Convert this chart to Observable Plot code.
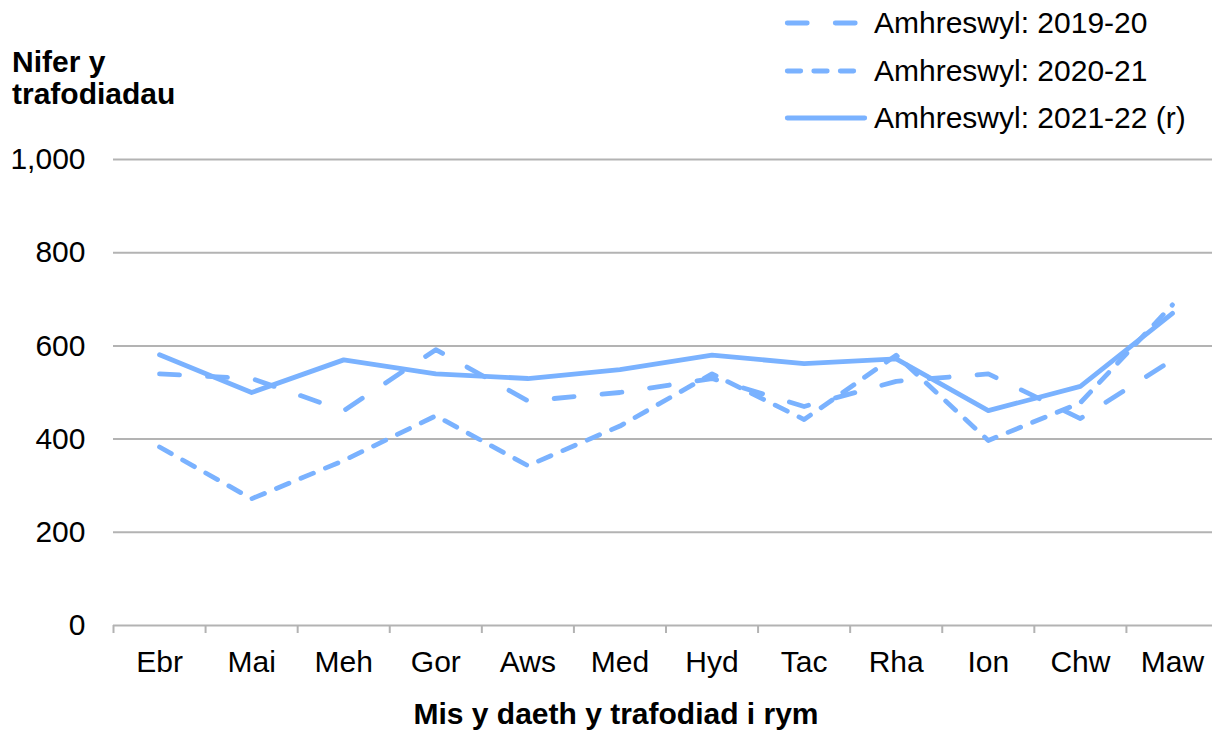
<!DOCTYPE html>
<html>
<head>
<meta charset="utf-8">
<script src="https://cdn.jsdelivr.net/npm/d3@7"></script>
<script src="https://cdn.jsdelivr.net/npm/@observablehq/plot@0.6"></script>
<style>
  html, body { margin: 0; padding: 0; background: #fff; }
  #wrap { position: relative; width: 1212px; height: 734px; overflow: hidden; font-family: "Liberation Sans", Arial, sans-serif; color: #000; }
  #ytitle { position: absolute; left: 12px; top: 46px; font-weight: bold; font-size: 30px; line-height: 32px; }
  #xtitle { position: absolute; left: 616px; top: 698px; transform: translateX(-50%); white-space: nowrap; font-weight: bold; font-size: 30px; line-height: 32px; }
  #legend { position: absolute; left: 780px; top: 0; }
</style>
</head>
<body>
<div id="wrap">
  <div id="chart"></div>
  <div id="ytitle">Nifer y<br>trafodiadau</div>
  <div id="xtitle">Mis y daeth y trafodiad i rym</div>
  <svg id="legend" width="432" height="140"></svg>
</div>
<script>
// ---- data ----
const months = ["Ebr", "Mai", "Meh", "Gor", "Aws", "Med", "Hyd", "Tac", "Rha", "Ion", "Chw", "Maw"];
const yTicks = [0, 200, 400, 600, 800, 1000];
const seriesNames = ["Amhreswyl: 2019-20", "Amhreswyl: 2020-21", "Amhreswyl: 2021-22 (r)"];
const values2019 = [540, 530, 461, 592, 482, 500, 530, 470, 524, 540, 444, 570];
const values2020 = [383, 272, 354, 450, 343, 428, 540, 442, 580, 397, 478, 688];
const values2021 = [581, 500, 570, 540, 530, 549, 580, 562, 572, 461, 513, 670];

// ---- styles ----
const lineColor = "#7AB2FF";
const gridColor = "#b3b3b3";
const dashes = ["20,28", "13.5,13", null];
const lineWidth = 4.8;

const allValues = [values2019, values2020, values2021];
const rows = allValues.flatMap((vals, s) => vals.map((v, i) => ({series: seriesNames[s], i, month: months[i], v})));
const idx = months.map((_, i) => i);
const boundaries = months.map((_, i) => i - 0.5).concat([months.length - 0.5]);

const chart = Plot.plot({
  width: 1212,
  height: 734,
  marginLeft: 113,
  marginRight: 0,
  marginTop: 159,
  marginBottom: 109,
  style: {fontFamily: "'Liberation Sans', Arial, sans-serif", fontSize: "30px", color: "#000", background: "#fff", overflow: "visible"},
  x: {type: "linear", domain: [-0.5, months.length - 0.5], range: [113, 1218], axis: null},
  y: {domain: [0, 1000], axis: null},
  marks: [
    Plot.gridY(yTicks, {stroke: gridColor, strokeOpacity: 1, strokeWidth: 2}),
    Plot.axisY(yTicks, {tickSize: 0, tickPadding: 28, tickFormat: d3.format(","), fontSize: 30, label: null}),
    Plot.axisX(boundaries, {tickSize: 8, tickFormat: () => "", stroke: gridColor, strokeWidth: 2, strokeOpacity: 1, label: null}),
    Plot.axisX(idx, {tickSize: 0, tickPadding: 25, tickFormat: i => months[i], fontSize: 30, label: null}),
    ...seriesNames.map((name, s) =>
      Plot.line(rows.filter(d => d.series === name), {
        x: "i", y: "v",
        stroke: lineColor, strokeWidth: lineWidth,
        strokeDasharray: dashes[s] || undefined,
        strokeLinecap: "round", strokeLinejoin: "round"
      })
    )
  ]
});
document.getElementById("chart").appendChild(chart);

// ---- legend ----
const leg = d3.select("#legend");
const rowY = [23, 71, 118];
seriesNames.forEach((name, s) => {
  const g = leg.append("g");
  const ln = g.append("line")
    .attr("x1", 7.25).attr("x2", 84.75)
    .attr("y1", rowY[s]).attr("y2", rowY[s])
    .attr("stroke", lineColor).attr("stroke-width", lineWidth)
    .attr("stroke-linecap", "round");
  if (dashes[s]) ln.attr("stroke-dasharray", dashes[s]);
  g.append("text")
    .attr("x", 94).attr("y", rowY[s] + 10)
    .attr("font-family", "'Liberation Sans', Arial, sans-serif")
    .attr("font-size", 30).attr("fill", "#000")
    .text(name);
});
</script>
</body>
</html>
